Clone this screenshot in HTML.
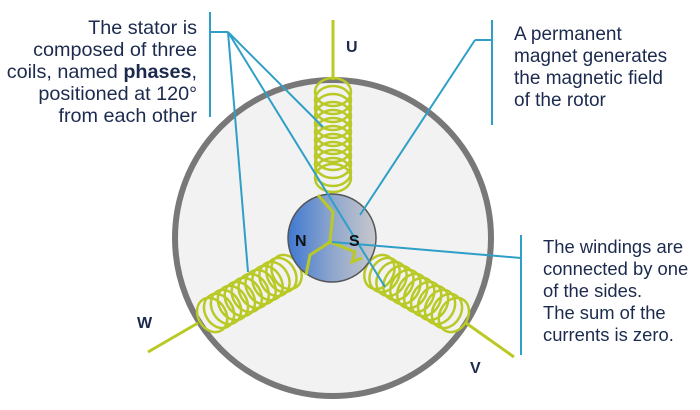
<!DOCTYPE html>
<html><head><style>
body{margin:0;width:700px;height:410px;background:#fff;overflow:hidden;font-family:"Liberation Sans",sans-serif;}
.t{position:absolute;line-height:22px;color:#1c2a4e;white-space:nowrap;}
</style></head><body>
<svg width="700" height="410" style="position:absolute;left:0;top:0">
<defs>
<linearGradient id="g" x1="0" x2="1" y1="0" y2="0">
<stop offset="0" stop-color="#3f78d2"/><stop offset="0.5" stop-color="#8ea6cc"/><stop offset="1" stop-color="#c8c8cc"/></linearGradient>
<g id="coil" fill="none" stroke="#b9c925" stroke-width="2.5">
<ellipse cx="0" cy="14" rx="18" ry="14"/><ellipse cx="0" cy="22" rx="18" ry="14"/><ellipse cx="0" cy="30" rx="18" ry="14"/><ellipse cx="0" cy="38" rx="18" ry="14"/><ellipse cx="0" cy="46" rx="18" ry="14"/><ellipse cx="0" cy="54" rx="18" ry="14"/><ellipse cx="0" cy="62" rx="18" ry="14"/><ellipse cx="0" cy="70" rx="18" ry="14"/><ellipse cx="0" cy="78" rx="18" ry="14"/><ellipse cx="0" cy="86" rx="18" ry="14"/><ellipse cx="0" cy="94" rx="18" ry="14"/><ellipse cx="0" cy="100" rx="18" ry="14"/>
</g>
</defs>
<circle cx="333" cy="238" r="158" fill="#f2f2f2" stroke="#787878" stroke-width="6"/>
<g stroke="#b9c925" stroke-width="3" fill="none">
<line x1="333" y1="20" x2="333" y2="80"/>
<line x1="148" y1="352" x2="198" y2="323"/>
<line x1="466" y1="323" x2="514" y2="357"/>
</g>
<use href="#coil" transform="translate(333,78)"/>
<use href="#coil" transform="translate(200,322) rotate(-120)"/>
<use href="#coil" transform="translate(466,322) rotate(120)"/>
<circle cx="332" cy="238" r="44" fill="url(#g)" stroke="#555" stroke-width="1.5"/>
<polyline points="318,195 333,212 330,242 310,255 306,275" fill="none" stroke="#b9c925" stroke-width="3"/>
<polyline points="330,242 355,252 352,262 362,258" fill="none" stroke="#b9c925" stroke-width="3"/>
<g stroke="#2f9fc7" stroke-width="2" fill="none">
<polyline points="210,12 210,117"/><line x1="210" y1="32" x2="228" y2="32"/>
<line x1="228" y1="32" x2="248" y2="272"/><line x1="228" y1="32" x2="323" y2="127"/><line x1="228" y1="32" x2="385" y2="287"/>
<polyline points="492,20 492,125"/><line x1="475" y1="40" x2="492" y2="40"/><line x1="475" y1="40" x2="360" y2="215"/>
<polyline points="521,235 521,355"/><line x1="332" y1="242" x2="521" y2="258"/>
</g>
<g font-family="Liberation Sans" font-weight="bold" font-size="16" fill="#1c2a4e">
<text x="346" y="52">U</text><text x="137" y="328">W</text><text x="470" y="373">V</text>
<text x="295" y="246" fill="#111">N</text><text x="349" y="246" fill="#111">S</text>
</g>
</svg>
<div class="t" style="right:503px;top:17px;text-align:right;font-size:19.8px">The stator is<br>composed of three<br>coils, named <b>phases</b>,<br>positioned at 120°<br>from each other</div>
<div class="t" style="left:514px;top:24px;font-size:19px">A permanent<br>magnet generates<br>the magnetic field<br>of the rotor</div>
<div class="t" style="left:543px;top:236px;font-size:18.4px">The windings are<br>connected by one<br>of the sides.<br>The sum of the<br>currents is zero.</div>
</body></html>
